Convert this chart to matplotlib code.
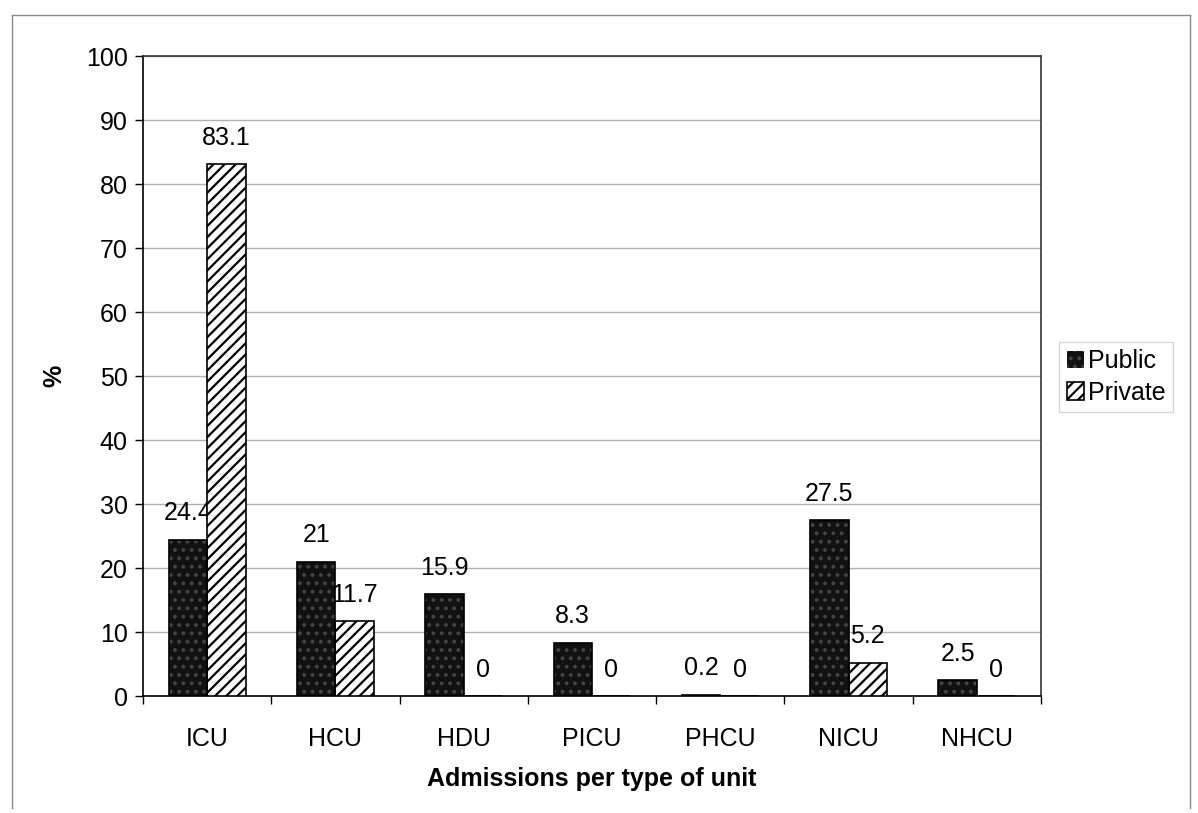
import matplotlib
matplotlib.use("Agg")
import matplotlib.pyplot as plt
import numpy as np
from matplotlib.patches import Patch
from matplotlib.lines import Line2D

units = ["ICU", "HCU", "HDU", "PICU", "PHCU", "NICU", "NHCU"]
public = [24.4, 21, 15.9, 8.3, 0.2, 27.5, 2.5]
private = [83.1, 11.7, 0, 0, 0, 5.2, 0]
public_labels = ["24.4", "21", "15.9", "8.3", "0.2", "27.5", "2.5"]
private_labels = ["83.1", "11.7", "0", "0", "0", "5.2", "0"]
y_ticks = list(range(0, 101, 10))

plt.rcParams["font.family"] = ["Liberation Sans", "DejaVu Sans"]
plt.rcParams["hatch.linewidth"] = 1.6

W, H = 1198, 813
fig = plt.figure(figsize=(W / 100, H / 100), dpi=100)
fig.patch.set_facecolor("white")

left, right, top, bottom = 143, 1041, 56, 696
ax = fig.add_axes([left / W, 1 - bottom / H, (right - left) / W, (bottom - top) / H])

fs = 18
bw = 0.3
centers = np.arange(len(units)) + 0.5
x_pub = centers - bw / 2
x_pri = centers + bw / 2

pub_face, pub_dots = "#111111", "#444444"

# Public: black fill with grey stipple, then a crisp black outline
ax.bar(x_pub, public, width=bw, color=pub_face, edgecolor=pub_dots,
       hatch="..", linewidth=0, zorder=3)
ax.bar(x_pub, public, width=bw, fill=False, edgecolor="black", linewidth=1.2, zorder=3.1)
# Private: white fill with diagonal hatching
ax.bar(x_pri, private, width=bw, color="white", edgecolor="black",
       hatch="///", linewidth=1.2, zorder=3)

# value labels sit behind the bars
for x, v, s in zip(x_pub, public, public_labels):
    ax.annotate(s, (x, v), xytext=(0, 19), textcoords="offset points",
                ha="center", va="center", fontsize=fs, zorder=2)
for x, v, s in zip(x_pri, private, private_labels):
    ax.annotate(s, (x, v), xytext=(0, 19), textcoords="offset points",
                ha="center", va="center", fontsize=fs, zorder=2)

ax.set_xlim(0, len(units))
ax.set_ylim(0, 100)
ax.set_yticks(y_ticks)
ax.set_yticklabels([str(t) for t in y_ticks], fontsize=fs)
ax.set_xticks(np.arange(len(units) + 1))
ax.set_xticklabels([""] * (len(units) + 1))
ax.set_xticks(centers, minor=True)
ax.set_xticklabels(units, minor=True, fontsize=fs)
ax.tick_params(axis="x", which="minor", length=0, pad=22)
ax.tick_params(axis="x", which="major", length=6, width=1, direction="out")
ax.tick_params(axis="y", length=6, width=1, direction="out", pad=5)

ax.grid(axis="y", color="#b0b0b0", linewidth=1.0, zorder=0)
ax.set_axisbelow(True)
for name in ["left", "bottom"]:
    ax.spines[name].set_color("black")
    ax.spines[name].set_linewidth(1.2)
for name in ["top", "right"]:
    ax.spines[name].set_color("#333333")
    ax.spines[name].set_linewidth(1.2)

ax.set_xlabel("Admissions per type of unit", fontsize=fs, fontweight="bold", labelpad=12)
ax.set_ylabel("%", fontsize=fs, fontweight="bold", labelpad=14)

handles = [
    Patch(facecolor=pub_face, edgecolor=pub_dots, hatch="..", linewidth=0),
    Patch(facecolor="white", edgecolor="black", hatch="///", linewidth=1.2),
]
leg = fig.legend(handles, ["Public", "Private"], loc="center left",
                 bbox_to_anchor=(1059 / W, 1 - 377 / H), fontsize=fs,
                 frameon=True, fancybox=False, handlelength=0.7, handleheight=0.7,
                 handletextpad=0.15, borderpad=0.3, labelspacing=0.3,
                 borderaxespad=0)
leg.get_frame().set_edgecolor("#cccccc")
leg.get_frame().set_linewidth(1.0)

# outer chart frame
frame_kw = dict(color="#8a8a8a", linewidth=1.0, transform=fig.transFigure)
fig.add_artist(Line2D([12 / W, 1190 / W], [1 - 15 / H, 1 - 15 / H], **frame_kw))
fig.add_artist(Line2D([12 / W, 12 / W], [1 - 15 / H, 1 - 808 / H], **frame_kw))
fig.add_artist(Line2D([1190 / W, 1190 / W], [1 - 15 / H, 1 - 808 / H], **frame_kw))

fig.savefig("out.png", dpi=100, facecolor="white")
